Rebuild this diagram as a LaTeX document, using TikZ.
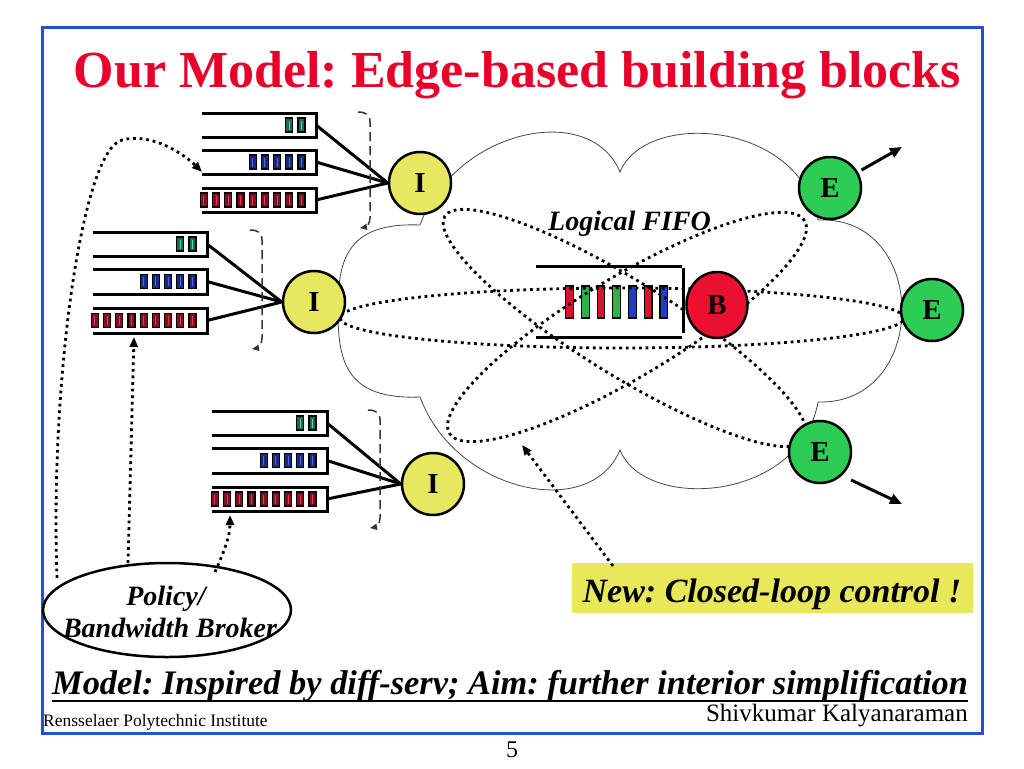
\documentclass[tikz,border=0pt]{standalone}
\usepackage{fontspec}
\setmainfont{Liberation Serif}
\usetikzlibrary{arrows.meta,shapes.geometric}
\frenchspacing
\definecolor{titlered}{RGB}{232,0,42}
\definecolor{frameblue}{RGB}{35,80,215}
\definecolor{iyellow}{RGB}{232,232,96}
\definecolor{egreen}{RGB}{45,205,85}
\definecolor{bred}{RGB}{236,16,48}
\definecolor{boxyellow}{RGB}{232,232,90}
\definecolor{pteal}{RGB}{20,110,90}
\definecolor{ptealL}{RGB}{90,210,170}
\definecolor{pblue}{RGB}{25,40,130}
\definecolor{pblueL}{RGB}{70,110,220}
\definecolor{pred}{RGB}{130,15,35}
\definecolor{predL}{RGB}{225,60,80}
\definecolor{fred}{RGB}{215,20,45}
\definecolor{fgreen}{RGB}{45,180,70}
\definecolor{fblue}{RGB}{30,60,200}
\definecolor{cloudgray}{RGB}{70,70,70}
\newcommand\qrow[7]{%
  \pgfmathsetmacro\qm{(#3+#4)/2}%
  \foreach \k in {1,...,#5}{%
    \pgfmathsetmacro\px{#2-18-(\k-1)*12.2}%
    \draw[line width=1.1pt, fill=#6] (\px,\qm-7) rectangle (\px+7,\qm+7);%
    \draw[#6L, line width=1pt] (\px+3.5,\qm-4.5) -- (\px+3.5,\qm+4.5);%
  }%
  \draw[qline] (#1,#3) -- (#2,#3) -- (#2,#4) -- (#1,#4);%
  \coordinate (#7) at (#2,\qm);%
}
\newcommand\fpkt[2]{%
  \draw[line width=1.2pt, fill=#2] (#1,286) rectangle (#1+7.7,318);%
}
\begin{document}
\begin{tikzpicture}[x=1pt,y=-1pt,
  qline/.style={line width=3pt},
  conn/.style={line width=3pt},
  dotl/.style={line width=2.8pt, dash pattern=on 2.8pt off 3.8pt},
  dotarrow/.style={dotl, -{Triangle[length=10pt,width=8pt]}},
  brk/.style={line width=1.5pt, black!80, dash pattern=on 9pt off 5pt, -{Triangle[length=7pt,width=6pt]}},
  cloudline/.style={line width=0.8pt, cloudgray},
  inode/.style={circle, draw, line width=2.5pt, fill=iyellow, minimum size=62pt, inner sep=0pt, font=\fontsize{29}{29}\selectfont\bfseries},
  enode/.style={inode, fill=egreen},
  bnode/.style={ellipse, draw, line width=2.5pt, fill=bred, minimum width=61pt, minimum height=66pt, inner sep=0pt, font=\fontsize{29}{29}\selectfont\bfseries},
  bi/.style={inner sep=0pt, font=\fontsize{#1}{#1}\selectfont\bfseries\itshape},
  earrow/.style={line width=3pt, -{Triangle[length=12pt,width=10pt]}}
]
\useasboundingbox (0,0) rectangle (1024,768);
% frame
\draw[frameblue, line width=3pt] (42,28) rectangle (982,733);
% title
\node[inner sep=0pt, anchor=base, text=titlered, font=\fontsize{52}{52}\selectfont\bfseries] (title) at (517.5,87) {Our Model: Edge-based building blocks};
% cloud
\draw[cloudline] (420,225) .. controls (455,130) and (590,100) .. (620,172)
  .. controls (645,110) and (800,120) .. (818,220)
  .. controls (930,215) and (930,405) .. (818,402)
  .. controls (800,502) and (645,512) .. (620,450)
  .. controls (590,522) and (455,492) .. (420,397)
  .. controls (345,400) and (338,360) .. (338,311)
  .. controls (338,262) and (345,222) .. (420,225) -- cycle;
% FIFO
\draw[qline] (536,266) -- (682,266);
\draw[qline] (536,337) -- (682,337);
\draw[qline] (683,268) -- (683,333);
\fpkt{565.7}{fred}
\fpkt{581.4}{fgreen}
\fpkt{597.1}{fred}
\fpkt{612.8}{fgreen}
\fpkt{628.5}{fblue}
\fpkt{644.2}{fred}
\fpkt{659.9}{fblue}
% dotted flow ellipses
\draw[dotl] (622,318) ellipse [x radius=282pt, y radius=30pt];
\draw[dotl, rotate around={-31.8:(625,328)}] (625,328) ellipse [x radius=212pt, y radius=47pt];
\draw[dotl, rotate around={30.9:(627,327)}] (627,327) ellipse [x radius=207pt, y radius=50pt];
\node[bi=28, anchor=base] (fifolabel) at (629.5,230) {Logical FIFO};
% nodes
\node[inode] (I1) at (420,183) {I};
\node[inode] (I2) at (314,302) {I};
\node[inode] (I3) at (433,484) {I};
\node[enode] (E1) at (830,188) {E};
\node[enode] (E2) at (932,310) {E};
\node[enode] (E3) at (820,452) {E};
\node[bnode] (B) at (717,305) {B};
% queue groups
\qrow{202}{316}{113}{137}{2}{pteal}{g1a}
\qrow{202}{316}{150}{174}{5}{pblue}{g1b}
\qrow{202}{316}{188}{212}{9}{pred}{g1c}
\qrow{93}{207}{232}{256}{2}{pteal}{g2a}
\qrow{93}{207}{269}{294}{5}{pblue}{g2b}
\qrow{93}{207}{308}{333}{9}{pred}{g2c}
\qrow{212}{327}{411}{435}{2}{pteal}{g3a}
\qrow{212}{327}{448}{473}{5}{pblue}{g3b}
\qrow{212}{327}{487}{511}{9}{pred}{g3c}
\foreach \g/\n in {g1/I1,g2/I2,g3/I3}{
  \draw[conn] (\g a) -- (\n.west);
  \draw[conn] (\g b) -- (\n.west);
  \draw[conn] (\g c) -- (\n.west);
}
% dashed brackets
\draw[brk] (358,112) .. controls (366,112) and (370,115) .. (370,122) -- (370,218) .. controls (370,224) and (366,227) .. (360,228);
\draw[brk] (250,230) .. controls (258,230) and (262,233) .. (262,240) -- (262,338) .. controls (262,344) and (258,348) .. (252,349);
\draw[brk] (368,410) .. controls (376,410) and (380,413) .. (380,420) -- (380,518) .. controls (380,524) and (376,527) .. (370,528);
% egress arrows
\coordinate (e1o) at (902,147);
\coordinate (e3s) at (851,480);
\coordinate (e3o) at (902,504);
\draw[earrow, shorten <=4pt] (E1) -- (e1o);
\draw[earrow] (e3s) -- (e3o);
% broker
\node[draw, ellipse, line width=2.5pt, minimum width=248pt, minimum height=94pt] (broker) at (167,610) {};
\node[bi=28, anchor=base] (pol) at (166,605) {Policy/};
\node[bi=28, anchor=base] (bwb) at (170,637) {Bandwidth Broker};
\coordinate (bl) at (57,578);
\coordinate (bm) at (128,563);
\coordinate (br) at (215,572);
\coordinate (t1) at (202,172);
\coordinate (t2) at (134,337);
\coordinate (t3) at (230,515);
\draw[dotarrow] (bl) .. controls (50,380) and (82,150) .. (122,140) .. controls (152,132) and (185,155) .. (t1);
\draw[dotarrow] (bm) -- (t2);
\draw[dotarrow] (br) .. controls (225,550) and (230,535) .. (t3);
% closed loop
\node[fill=boxyellow, minimum width=401pt, minimum height=50pt, inner sep=0pt] (newbox) at (772.5,588) {};
\node[bi=34, anchor=base] (newtext) at (772,602) {New: Closed-loop control !};
\coordinate (cl) at (522,445);
\coordinate (cls) at (613,566);
\draw[dotarrow] (cls) -- (cl);
% bottom texts
\node[bi=34.4, anchor=base west] (model) at (52,694) {Model: Inspired by diff-serv; Aim: further interior simplification};
\draw[line width=2.5pt] ([yshift=-7pt]model.base west) -- ([yshift=-7pt]model.base east);
\node[inner sep=0pt, anchor=base west, font=\fontsize{17.5}{17.5}\selectfont] (rpi) at (43,726) {Rensselaer Polytechnic Institute};
\node[inner sep=0pt, anchor=base east, font=\fontsize{25}{25}\selectfont] (author) at (968,721) {Shivkumar Kalyanaraman};
\node[inner sep=0pt, anchor=base, font=\fontsize{24}{24}\selectfont] (pagenum) at (512,757) {5};
\end{tikzpicture}
\end{document}
